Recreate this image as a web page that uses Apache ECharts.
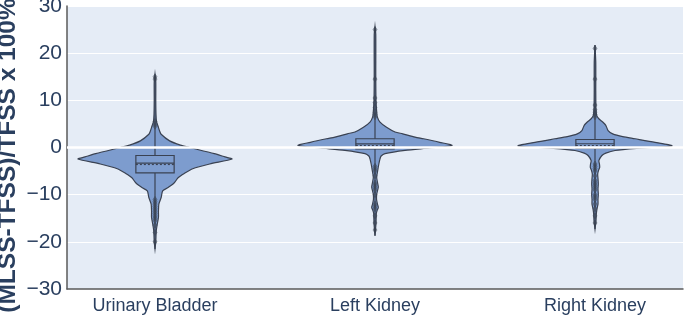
<!DOCTYPE html>
<html>
<head>
    <meta charset="utf-8">
    <title>Violin</title>
    <script src="https://cdn.jsdelivr.net/npm/echarts@6/dist/echarts.min.js"></script>
</head>
<body style="margin:0">
    <div id="main" style="width:685px;height:315px;"></div>
    <script type="text/javascript">
        // categories and tick labels
        var categories = ['Urinary Bladder', 'Left Kidney', 'Right Kidney'];
        var yTicks = [-30, -20, -10, 0, 10, 20, 30];

        // violin outlines: levels (y) and relative density (0..1)
        var ubLevels = [15.5, 14, 10, 7, 5.5, 4.5, 3.5, 2.8, 1.4, 0.5, 0, -1.3, -2, -2.45, -3.5, -4.5, -5.5, -6.4, -7.3, -7.8, -8.6, -9.2, -10.6, -12, -13.5, -14.8, -16.2, -17.7, -20, -21.5];
        var ubDensity = [0, .01, .01, .013, .02, .04, .06, .08, .19, .33, .45, .77, .91, 1, .71, .49, .38, .30, .26, .23, .16, .10, .08, .05, .045, .045, .03, .016, .01, 0];

        var lkLevels = [25.6, 24, 15, 10, 8, 6.5, 5.4, 4.3, 3.3, 2.9, 2.2, 1.85, 1.1, 0.43, -0.1, -0.6, -1.3, -1.8, -2.4, -3.5, -4.9, -6.3, -7.4, -8.4, -9.2, -9.9, -11, -12, -12.7, -13.4, -14, -16, -18.7];
        var lkDensity = [0, .01, .01, .013, .02, .03, .065, .15, .26, .36, .52, .63, .84, 1, .71, .39, .13, .08, .065, .05, .035, .022, .032, .043, .032, .022, .02, .032, .043, .026, .017, .013, 0];

        var rkLevels = [21.7, 18, 12, 8, 6.8, 6.1, 5.4, 4.7, 3.6, 2.9, 2.3, 1.85, 1.1, 0.35, -0.15, -0.64, -1.2, -1.7, -2.8, -3.5, -4.2, -4.9, -5.6, -6.6, -7.7, -8.8, -9.9, -11, -12, -13, -14.1, -15.5, -17.3];
        var rkDensity = [0, .01, .01, .013, .022, .05, .10, .14, .17, .23, .36, .52, .78, 1, .58, .26, .14, .09, .05, .058, .061, .045, .035, .039, .043, .039, .043, .039, .039, .026, .017, .013, 0];

        // box stats: [q1, median, q3, mean]
        var boxStats = [
            [-5.4, -3.3, -1.7, -3.6],
            [-0.3, 0.75, 1.85, 0.4],
            [-0.2, 0.8, 1.7, 0.4]
        ];

        // outlier points per category
        var ubPoints = [15, 14.5, 5.5, 5, 4.5, -11, -11.5, -12, -12.5, -13, -13.5, -14, -14.5, -15, -15.5, -16.5, -18, -20];
        var lkPoints = [25, 14.5, 10.5, 9.5, 8.5, 7.5, 7, 6.5, -4, -4.5, -5, -6, -7.5, -8, -8.5, -9, -10, -12, -12.5, -13, -14.5, -16, -17.5];
        var rkPoints = [21, 14.5, 9, 8, 7.5, 7, 6.5, -3.5, -4, -4.5, -5, -6, -7, -7.5, -8, -8.5, -9, -10, -10.5, -11, -12, -13, -14.5, -16];

        var violins = [
            { levels: ubLevels, density: ubDensity },
            { levels: lkLevels, density: lkDensity },
            { levels: rkLevels, density: rkDensity }
        ];
        var pointSets = [ubPoints, lkPoints, rkPoints];

        var fill = 'rgb(125,156,206)';
        var edge = '#3a4252';
        var halfMax = 0.35;
        var boxHalf = 0.087;

        var pointData = [];
        pointSets.forEach(function (arr, i) {
            arr.forEach(function (v) { pointData.push([i, v]); });
        });

        var myChart = echarts.init(document.getElementById('main'));
        var option = {
            animation: false,
            grid: {
                left: 67, right: 2, top: 6, bottom: 26,
                outerBoundsMode: 'none', containLabel: false,
                show: true, backgroundColor: '#E5ECF6', borderWidth: 0
            },
            xAxis: {
                type: 'value', min: -0.4, max: 2.4,
                axisLine: { show: true, onZero: false, lineStyle: { color: '#5a5a5a', width: 1.5 } },
                axisTick: { show: false },
                splitLine: { show: false },
                axisLabel: {
                    customValues: [0, 1, 2],
                    formatter: function (v) { return categories[Math.round(v)]; },
                    color: '#2a3f5f', fontSize: 18, fontFamily: 'Liberation Sans, Arial', margin: 8
                }
            },
            yAxis: {
                type: 'value', min: yTicks[0], max: yTicks[yTicks.length - 1], interval: 10,
                name: '(MLSS-TFSS)/TFSS x 100%',
                nameLocation: 'middle', nameGap: 46, nameMoveOverlap: false,
                nameTextStyle: {
                    color: '#2a3f5f', fontSize: 24.5, fontWeight: 'bold', fontFamily: 'Liberation Sans, Arial',
                    padding: [0, 16, 0, 0]
                },
                axisLine: { show: true, onZero: false, lineStyle: { color: '#5a5a5a', width: 1.5 } },
                axisTick: { show: false },
                splitLine: { lineStyle: { color: '#ffffff', width: 1 } },
                axisLabel: {
                    color: '#2a3f5f', fontSize: 21, fontFamily: 'Liberation Sans, Arial', margin: 5,
                    formatter: function (v) { return v < 0 ? '\u2212' + Math.abs(v) : String(v); }
                }
            },
            series: [
                {
                    type: 'line', data: [], silent: true, z: 1,
                    markLine: {
                        symbol: 'none', silent: true, label: { show: false },
                        lineStyle: { color: '#ffffff', width: 2.5, type: 'solid' },
                        data: [{ yAxis: 0 }]
                    }
                },
                {
                    type: 'custom', z: 3,
                    data: [0, 1, 2],
                    renderItem: function (params, api) {
                        var i = params.dataIndex;
                        var v = violins[i];
                        var right = [], left = [];
                        for (var k = 0; k < v.levels.length; k++) {
                            right.push(api.coord([i + v.density[k] * halfMax, v.levels[k]]));
                            left.unshift(api.coord([i - v.density[k] * halfMax, v.levels[k]]));
                        }
                        var pts = right.concat(left);
                        var s = boxStats[i];
                        var top = api.coord([i, v.levels[0]]);
                        var bot = api.coord([i, v.levels[v.levels.length - 1]]);
                        var bl = api.coord([i - boxHalf, s[2]]);
                        var br = api.coord([i + boxHalf, s[0]]);
                        var ml = api.coord([i - boxHalf, s[1]]);
                        var mr = api.coord([i + boxHalf, s[1]]);
                        var al = api.coord([i - boxHalf, s[3]]);
                        var ar = api.coord([i + boxHalf, s[3]]);
                        return {
                            type: 'group',
                            children: [
                                { type: 'polygon', shape: { points: pts, smooth: 0.25 },
                                  style: { fill: fill, stroke: edge, lineWidth: 1.2 } },
                                { type: 'line', shape: { x1: top[0], y1: top[1], x2: bot[0], y2: bot[1] },
                                  style: { stroke: edge, lineWidth: 1.2 } },
                                { type: 'rect', shape: { x: bl[0], y: bl[1], width: br[0] - bl[0], height: br[1] - bl[1] },
                                  style: { fill: fill, stroke: edge, lineWidth: 1.2 } },
                                { type: 'line', shape: { x1: ml[0], y1: ml[1], x2: mr[0], y2: mr[1] },
                                  style: { stroke: edge, lineWidth: 1.2 } },
                                { type: 'line', shape: { x1: al[0], y1: al[1], x2: ar[0], y2: ar[1] },
                                  style: { stroke: edge, lineWidth: 1.2, lineDash: [2, 2] } }
                            ]
                        };
                    }
                },
                {
                    type: 'scatter', z: 4,
                    data: pointData,
                    symbol: 'diamond', symbolSize: [4, 6],
                    itemStyle: { color: 'rgba(58,66,82,0.6)', borderColor: '#3a4252', borderWidth: 0.5 }
                }
            ]
        };
        myChart.setOption(option);
    </script>
</body>
</html>
